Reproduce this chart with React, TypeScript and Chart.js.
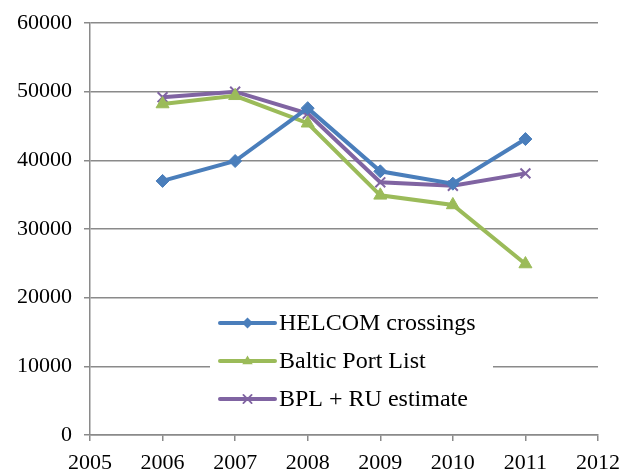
import React, { useEffect, useRef } from "react";
import { Chart, registerables } from "chart.js";

Chart.register(...registerables);

const years = [2006, 2007, 2008, 2009, 2010, 2011];
const helcom = [37000, 39900, 47600, 38400, 36600, 43100];
const balticPortList = [48200, 49400, 45400, 34900, 33500, 24900];
const bplRu = [49200, 50000, 46800, 36800, 36300, 38100];
const seriesNames = ["HELCOM crossings", "Baltic Port List", "BPL + RU estimate"];
const seriesColors = ["#4A7EBB", "#9BBB59", "#8064A2"];
const seriesMarkers = ["rectRot", "triangle", "crossRot"];

const FONT = "'Liberation Serif', 'Times New Roman', serif";
const GRID = "#8a8a8a";

function drawMarker(ctx: CanvasRenderingContext2D, style: string, x: number, y: number, r: number, color: string) {
  ctx.save();
  ctx.fillStyle = color;
  ctx.strokeStyle = color;
  ctx.beginPath();
  if (style === "rectRot") {
    ctx.moveTo(x, y - r);
    ctx.lineTo(x + r, y);
    ctx.lineTo(x, y + r);
    ctx.lineTo(x - r, y);
    ctx.closePath();
    ctx.fill();
  } else if (style === "triangle") {
    ctx.moveTo(x, y - r);
    ctx.lineTo(x + r * 0.95, y + r * 0.6);
    ctx.lineTo(x - r * 0.95, y + r * 0.6);
    ctx.closePath();
    ctx.fill();
  } else {
    ctx.lineWidth = 1.8;
    ctx.moveTo(x - r * 0.75, y - r * 0.75);
    ctx.lineTo(x + r * 0.75, y + r * 0.75);
    ctx.moveTo(x + r * 0.75, y - r * 0.75);
    ctx.lineTo(x - r * 0.75, y + r * 0.75);
    ctx.stroke();
  }
  ctx.restore();
}

const legendPlugin = {
  id: "insideLegend",
  afterDraw(chart: any) {
    const ctx: CanvasRenderingContext2D = chart.ctx;
    const area = chart.chartArea;
    const left = area.left + 120;
    const top = area.top + 278;
    const width = 283;
    const height = 116;
    ctx.save();
    ctx.fillStyle = "#ffffff";
    ctx.fillRect(left, top, width, height);
    ctx.font = `24px ${FONT}`;
    ctx.textBaseline = "middle";
    ctx.textAlign = "left";
    for (let i = 0; i < seriesNames.length; i++) {
      const y = top + 22 + i * 38;
      ctx.strokeStyle = seriesColors[i];
      ctx.lineWidth = 4;
      ctx.lineCap = "round";
      ctx.beginPath();
      ctx.moveTo(left + 10, y);
      ctx.lineTo(left + 65, y);
      ctx.stroke();
      drawMarker(ctx, seriesMarkers[i], left + 37.5, y, 5.5, seriesColors[i]);
      ctx.fillStyle = "#000000";
      ctx.fillText(seriesNames[i], left + 69, y + 1);
    }
    ctx.restore();
  },
};

export default function App() {
  const ref = useRef<HTMLCanvasElement>(null);
  useEffect(() => {
    document.body.style.margin = "0";
    const canvas = ref.current;
    if (!canvas) return;
    const allSeries = [helcom, balticPortList, bplRu];
    const chart = new Chart(canvas, {
      type: "line",
      data: {
        datasets: allSeries.map((vals, i) => ({
          label: seriesNames[i],
          data: years.map((yr, j) => ({ x: yr, y: vals[j] })),
          borderColor: seriesColors[i],
          backgroundColor: seriesColors[i],
          borderWidth: 4,
          pointStyle: seriesMarkers[i] as any,
          pointRadius: i === 2 ? 7 : i === 1 ? 7.5 : 6.5,
          pointBorderWidth: i === 2 ? 2 : 1,
          pointBorderColor: seriesColors[i],
          pointBackgroundColor: seriesColors[i],
          tension: 0,
          fill: false,
        })),
      },
      plugins: [legendPlugin],
      options: {
        responsive: false,
        animation: false,
        layout: { padding: { left: 0, right: 24, top: 23, bottom: 0 } },
        plugins: { legend: { display: false }, tooltip: { enabled: false } },
        scales: {
          x: {
            type: "linear",
            min: 2005,
            max: 2012,
            afterFit: (s: any) => {
              s.height = 37;
              s.paddingLeft = 0;
              s.paddingRight = 0;
            },
            ticks: {
              stepSize: 1,
              color: "#000",
              padding: 9,
              font: { family: FONT, size: 22 },
              callback: (v: any) => String(v),
            },
            grid: { drawOnChartArea: false, drawTicks: true, tickLength: 6, color: GRID, lineWidth: 1.5 },
            border: { display: true, color: GRID, width: 1.5 },
          },
          y: {
            min: 0,
            max: 60000,
            afterFit: (s: any) => {
              s.width = 90;
              s.paddingTop = 0;
              s.paddingBottom = 0;
            },
            ticks: {
              stepSize: 10000,
              color: "#000",
              padding: 12,
              font: { family: FONT, size: 22 },
              callback: (v: any) => String(v),
            },
            grid: { drawOnChartArea: true, drawTicks: true, tickLength: 6, color: GRID, lineWidth: 1.5 },
            border: { display: true, color: GRID, width: 1.5 },
          },
        },
      },
    });
    return () => chart.destroy();
  }, []);
  return <canvas ref={ref} width={622} height={472} style={{ display: "block" }} />;
}
